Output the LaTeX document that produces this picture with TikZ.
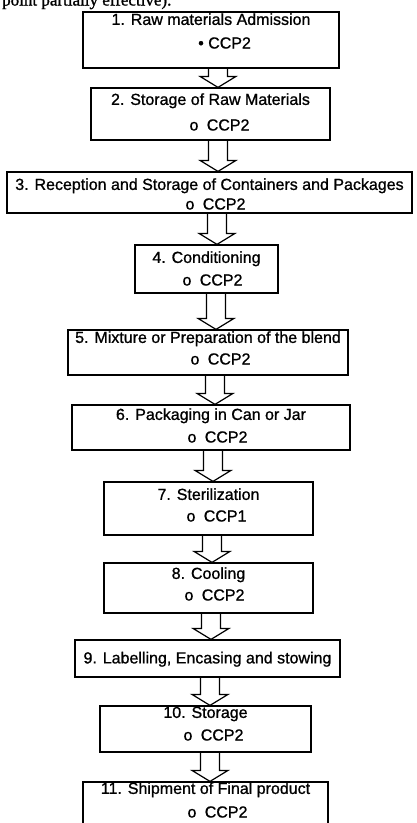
\documentclass[tikz,border=0pt]{standalone}
\usepackage{fontspec}
\setmainfont{Liberation Serif}[FakeBold=1.2]
\setsansfont{Liberation Sans}[FakeBold=1]
\setmonofont{Liberation Mono}[FakeBold=1]
\usetikzlibrary{positioning, calc}

\newcommand{\opendot}{{\ttfamily\fontsize{16pt}{16pt}\selectfont o}}

\begin{document}
\begin{tikzpicture}[
        x=1pt, y=-1pt,
        stepbox/.style={draw, rectangle, line width=1.2pt, inner sep=0pt},
        steptext/.style={font=\sffamily\fontsize{16pt}{18pt}\selectfont, inner sep=0pt, text height=11pt, text depth=0pt},
        ccptext/.style={steptext, anchor=west},
        flowarrow/.style={line width=1.2pt, line join=miter}
    ]
        \useasboundingbox (0,0) rectangle (416,823);
        \clip (0,0) rectangle (416,823);

        % cut-off line of the page text above the chart
        \node[anchor=base west, inner sep=0pt, font=\rmfamily\fontsize{17pt}{17pt}\selectfont] (note) at (2,5.5) {point partially effective).};

        \foreach \i/\x/\y/\w/\h in {1/211/40/256/56, 2/210.5/114/239/52, 3/209.5/192.5/405/41,
                4/206.5/269/143/48, 5/208/352.5/280/45, 6/211/427.5/278/45, 7/208.5/508.5/209/53,
                8/208.5/588/209/50, 9/207.5/658.5/265/37, 10/205.5/729/211/46, 11/205.5/816/245/68} {
            \node[stepbox, minimum width=\w pt, minimum height=\h pt] (s\i) at (\x,\y) {};
        }

        \foreach \i/\d/\txt in {1/8/{1. Raw materials Admission}, 2/12/{2. Storage of Raw Materials},
                3/13/{3. Reception and Storage of Containers and Packages}, 4/13/{4. Conditioning},
                5/8/{5. Mixture or Preparation of the blend}, 6/10/{6. Packaging in Can or Jar},
                7/13/{7. Sterilization}, 8/11/{8. Cooling}, 9/18.5/{9. Labelling, Encasing and stowing},
                10/7/{10. Storage}, 11/7/{11. Shipment of Final product}} {
            \node[steptext] (t\i) at ($(s\i.north)+(0,\d)$) {\txt};
        }

        \node[ccptext] (c1) at (198,43) {\textbullet{} CCP2};
        \foreach \i/\bx/\by/\code in {2/189/125/CCP2, 3/185/204/CCP2, 4/182/280/CCP2, 5/190/359/CCP2,
                6/187/437/CCP2, 7/186/516/CCP1, 8/184/595/CCP2, 10/183/735/CCP2, 11/187/812/CCP2} {
            \node[ccptext] (c\i) at (\bx,\by) {\opendot\hspace{8pt}\code};
        }

        \foreach \i/\j/\cx in {1/2/218, 2/3/218, 3/4/217, 4/5/216, 5/6/215, 6/7/213, 7/8/212, 8/9/211, 9/10/210, 10/11/210} {
            \path (\cx,0 |- s\i.south) coordinate (u\i) (\cx,0 |- s\j.north) coordinate (v\i);
            \draw[flowarrow] ([xshift=-9.5pt]u\i) -- ([xshift=-9.5pt,yshift=11pt]v\i)
                -- ([xshift=-18pt,yshift=11pt]v\i) -- (v\i) -- ([xshift=18pt,yshift=11pt]v\i)
                -- ([xshift=9.5pt,yshift=11pt]v\i) -- ([xshift=9.5pt]u\i);
        }
    \end{tikzpicture}
\end{document}
